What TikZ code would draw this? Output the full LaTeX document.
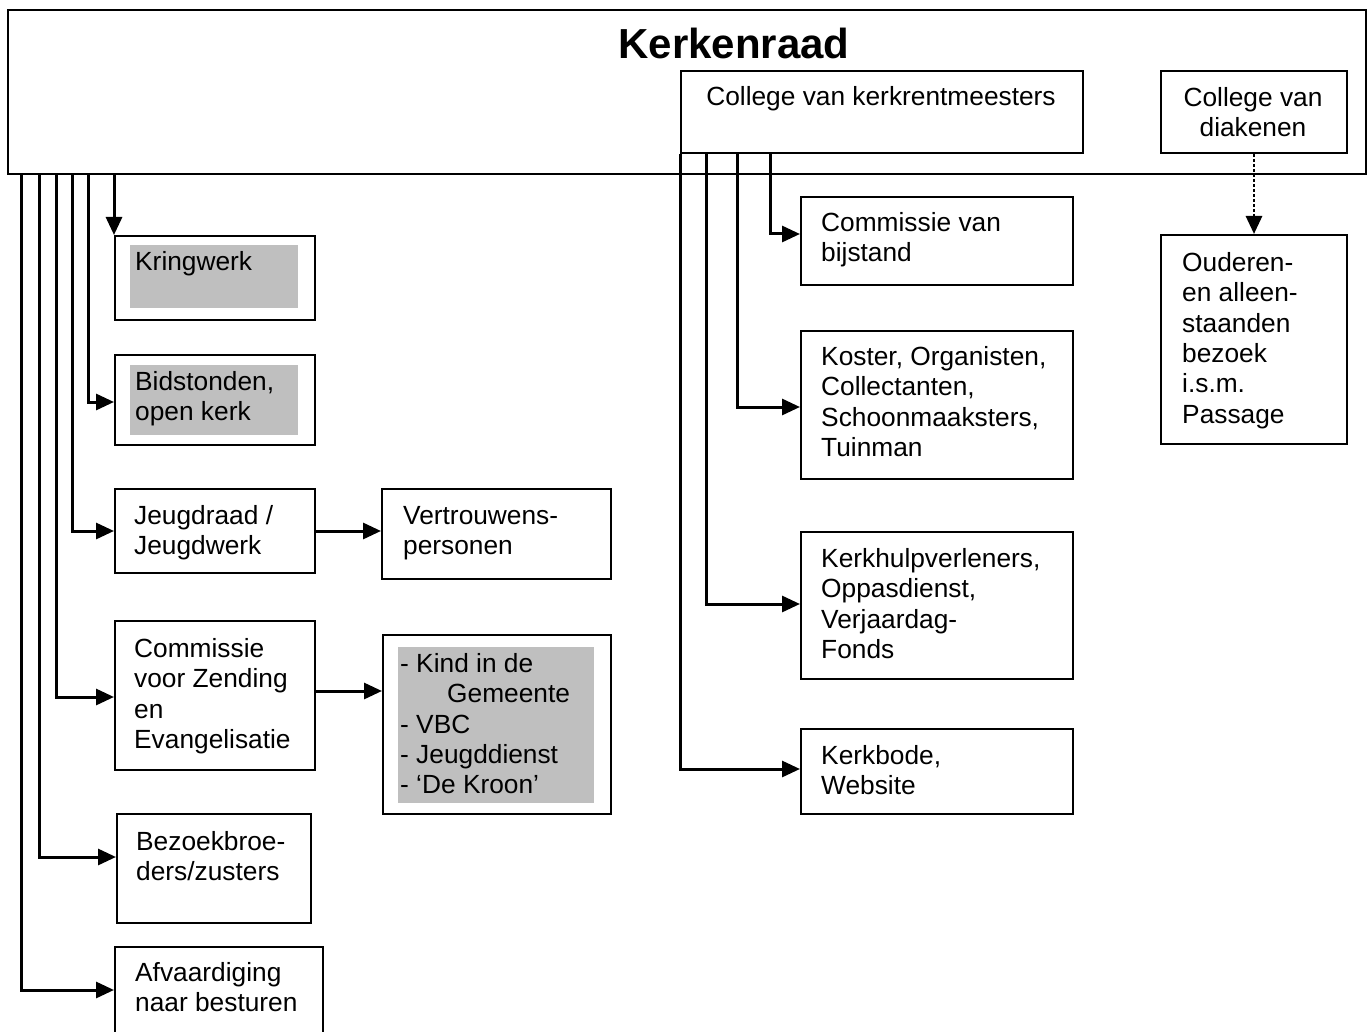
\documentclass[tikz,border=0pt]{standalone}
\usepackage{fontspec}
\setmainfont{Liberation Sans}
\usetikzlibrary{arrows.meta}
\newcommand\fs{\fontsize{26.3}{30.4}\selectfont}
\newcommand\fl{\rule{0pt}{20pt}}
\tikzset{
  box/.style={draw, line width=2pt, inner sep=0pt, anchor=north west},
  shade/.style={fill=black!25, draw=none, inner sep=0pt, anchor=north west},
  txt/.style={anchor=north west, inner sep=0pt, align=left, font=\fs},
  conn/.style={line width=3pt, -{Triangle[length=18pt,width=16pt]}},
  dotconn/.style={line width=2.8pt, dash pattern=on 3pt off 2pt, -{Triangle[length=18pt,width=16pt]}}
}
\newcommand\mybox[6][box]{\node[#1, minimum width={(#5-#3)*1pt}, minimum height={(#6-#4)*1pt}] (#2) at (#3,#4) {};}
\begin{document}
\begin{tikzpicture}[x=1pt,y=-1pt]
\useasboundingbox (0,0) rectangle (1368,1032);
\fill[white] (0,0) rectangle (1368,1032);
% main box
\mybox{kerk}{7}{9}{1365}{173}
\node[font=\fontsize{42}{48}\selectfont\bfseries, anchor=base, inner sep=0pt] (title) at (734,59) {Kerkenraad};
\mybox{ckm}{680}{70}{1082}{152}
\node[font=\fs, anchor=base, inner sep=0pt] (ckmt) at (881,106) {College van kerkrentmeesters};
\mybox{cdk}{1160}{70}{1346}{152}
\node[font=\fs, anchor=north, inner sep=0pt, align=center] (cdkt) at (1253,86) {\fl College van\\diakenen};
% ouderen
\mybox{oud}{1160}{234}{1346}{443}
\node[txt] (oudt) at (1182,251) {\fl Ouderen-\\en alleen-\\staanden\\bezoek\\i.s.m.\\Passage};
% left column
\mybox{kring}{114}{235}{314}{319}
\mybox[shade]{kringg}{130}{245}{298}{308}
\node[txt] (kringt) at (135,250) {\fl Kringwerk};
\mybox{bid}{114}{354}{314}{444}
\mybox[shade]{bidg}{130}{365}{298}{435}
\node[txt] (bidt) at (135,370) {\fl Bidstonden,\\open kerk};
\mybox{jeugd}{114}{488}{314}{572}
\node[txt] (jeugdt) at (134,504) {\fl Jeugdraad /\\Jeugdwerk};
\mybox{vertr}{381}{488}{610}{578}
\node[txt] (vertrt) at (403,504) {\fl Vertrouwens-\\personen};
\mybox{zend}{114}{620}{314}{769}
\node[txt] (zendt) at (134,637) {\fl Commissie\\voor Zending\\en\\Evangelisatie};
\mybox{kind}{382}{634}{610}{813}
\mybox[shade]{kindg}{398}{647}{594}{803}
\node[txt] (kindt) at (400,652) {\fl - Kind in de\\\hspace*{47pt}Gemeente\\- VBC\\- Jeugddienst\\- ‘De Kroon’};
\mybox{bez}{116}{813}{310}{922}
\node[txt] (bezt) at (136,830) {\fl Bezoekbroe-\\ders/zusters};
\mybox{afv}{114}{946}{322}{1045}
\node[txt] (afvt) at (135,961) {\fl Afvaardiging\\naar besturen};
% right column
\mybox{bij}{800}{196}{1072}{284}
\node[txt] (bijt) at (821,211) {\fl Commissie van\\bijstand};
\mybox{kos}{800}{330}{1072}{478}
\node[txt] (kost) at (821,345) {\fl Koster, Organisten,\\Collectanten,\\Schoonmaaksters,\\Tuinman};
\mybox{khv}{800}{531}{1072}{678}
\node[txt] (khvt) at (821,547) {\fl Kerkhulpverleners,\\Oppasdienst,\\Verjaardag-\\Fonds};
\mybox{kbo}{800}{728}{1072}{813}
\node[txt] (kbot) at (821,744) {\fl Kerkbode,\\Website};
% connectors from Kerkenraad
\draw[conn] (kerk.south -| 114,0) -- (kring.north west);
\draw[conn] (kerk.south -| 88,0) |- (bid.west |- 0,402);
\draw[conn] (kerk.south -| 72,0) |- (jeugd.west |- 0,531);
\draw[conn] (kerk.south -| 56,0) |- (zend.west |- 0,697);
\draw[conn] (kerk.south -| 39,0) |- (bez.west |- 0,857);
\draw[conn] (kerk.south -| 21,0) |- (afv.west |- 0,990);
\draw[conn] (jeugd.east |- 0,531) -- (vertr.west |- 0,531);
\draw[conn] (zend.east |- 0,691) -- (kind.west |- 0,691);
% connectors from college van kerkrentmeesters
\draw[conn] (ckm.south -| 770,0) |- (bij.west |- 0,234);
\draw[conn] (ckm.south -| 737,0) |- (kos.west |- 0,407);
\draw[conn] (ckm.south -| 706,0) |- (khv.west |- 0,604);
\draw[conn] (ckm.south west) |- (kbo.west |- 0,769);
% dotted
\draw[dotconn] (cdk.south) -- (oud.north);
\end{tikzpicture}
\end{document}
